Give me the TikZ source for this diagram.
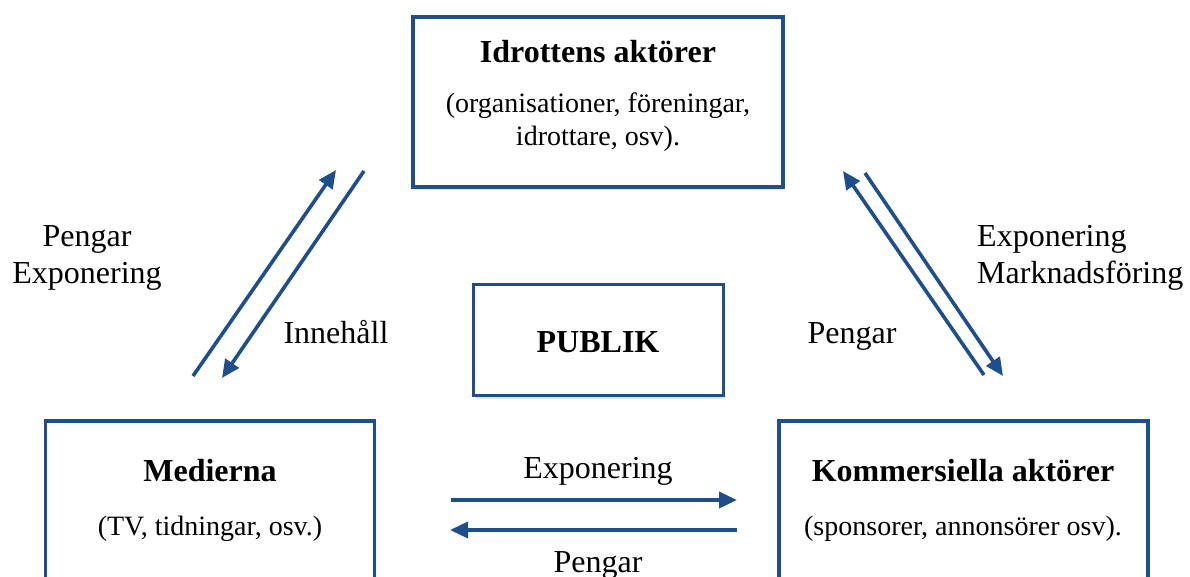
\documentclass[tikz,border=0pt]{standalone}
\usepackage{fontspec}
\setmainfont{Liberation Serif}
\usetikzlibrary{arrows.meta,shadows}
\definecolor{boxblue}{RGB}{31,78,140}
\begin{document}
\begin{tikzpicture}[x=1pt,y=-1pt,
  box/.style={draw=boxblue,line width=3.5pt,fill=white,rectangle,inner sep=0pt,
    drop shadow={opacity=0.18,shadow xshift=1pt,shadow yshift=-3pt}},
  ttl/.style={anchor=base,inner sep=0pt,font=\fontsize{32}{38}\selectfont\bfseries},
  sub/.style={anchor=base,inner sep=0pt,font=\fontsize{28}{33}\selectfont},
  lbl/.style={inner sep=0pt,font=\fontsize{32}{38}\selectfont},
  flow/.style={draw=boxblue,line width=3.6pt,-{Triangle[length=18pt,width=16pt]}}]
\useasboundingbox (0,0) rectangle (1190,577);
\clip (0,0) rectangle (1190,577);
% boxes
\node[box,minimum width=370pt,minimum height=170pt] (idr) at (598,102) {};
\node[box,minimum width=250pt,minimum height=111pt] (pub) at (598.5,340) {};
\node[box,minimum width=329pt,minimum height=200pt] (med) at (210,521) {};
\node[box,minimum width=369pt,minimum height=200pt] (kom) at (963.5,521) {};
% box texts
\node[ttl] (idrT) at (598,63) {Idrottens aktörer};
\node[sub] (idrS1) at (598,113) {(organisationer, föreningar,};
\node[sub] (idrS2) at (598,146) {idrottare, osv).};
\node[ttl] (pubT) at (598,352) {PUBLIK};
\node[ttl] (medT) at (210,481) {Medierna};
\node[sub] (medS) at (210,535) {(TV, tidningar, osv.)};
\node[ttl] (komT) at (963,481) {Kommersiella aktörer};
\node[sub] (komS) at (963,535) {(sponsorer, annonsörer osv).};
% arrow end points
\coordinate (l1s) at (193,376);
\coordinate (l1e) at (336,170);
\coordinate (l2s) at (364,171);
\coordinate (l2e) at (222,378);
\coordinate (r1s) at (984,375);
\coordinate (r1e) at (843,171);
\coordinate (r2s) at (865,173);
\coordinate (r2e) at (1003,376);
\coordinate (h1s) at (451,500);
\coordinate (h1e) at (737,500);
\coordinate (h2s) at (737,530);
\coordinate (h2e) at (450,530);
\draw[flow] (l1s) -- (l1e);
\draw[flow] (l2s) -- (l2e);
\draw[flow] (r1s) -- (r1e);
\draw[flow] (r2s) -- (r2e);
\draw[flow] (h1s) -- (h1e);
\draw[flow] (h2s) -- (h2e);
% labels
\node[lbl,anchor=base] (lp) at (87,247) {Pengar};
\node[lbl,anchor=base] (le) at (87,283) {Exponering};
\node[lbl,anchor=base] (li) at (336,343) {Innehåll};
\node[lbl,anchor=base west] (re) at (977,247) {Exponering};
\node[lbl,anchor=base west] (rm) at (977,283) {Marknadsföring};
\node[lbl,anchor=base] (rp) at (852,343) {Pengar};
\node[lbl,anchor=base] (he) at (598,478) {Exponering};
\node[lbl,anchor=base] (hp) at (598,572) {Pengar};
\end{tikzpicture}
\end{document}
